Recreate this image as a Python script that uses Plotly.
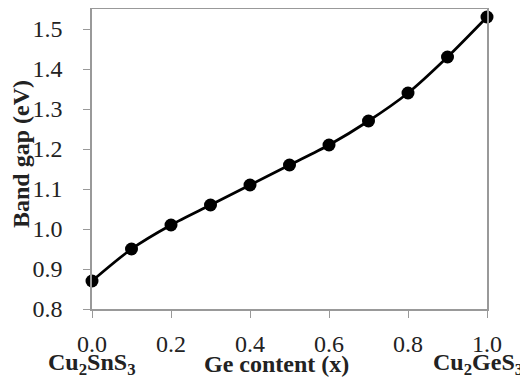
import plotly.graph_objects as go

ge_content = [0.0, 0.1, 0.2, 0.3, 0.4, 0.5, 0.6, 0.7, 0.8, 0.9, 1.0]
band_gap = [0.87, 0.95, 1.01, 1.06, 1.11, 1.16, 1.21, 1.27, 1.34, 1.43, 1.53]
x_ticks = [0.0, 0.2, 0.4, 0.6, 0.8, 1.0]
y_ticks = [0.8, 0.9, 1.0, 1.1, 1.2, 1.3, 1.4, 1.5]

FONT = "Liberation Serif, Times New Roman, serif"
TXT = "#222"
TS = 24
LS = 24

# page body has an 8px margin; figure sized to the visible 528x380 window
W, H = 520, 372
L, R, T, B = 84, 41, 1, 71
PW, PH = W - L - R, H - T - B

fig = go.Figure()
fig.add_trace(go.Scatter(
    x=ge_content, y=band_gap, mode="lines+markers",
    line=dict(color="black", width=2.7, shape="spline", smoothing=0.8),
    marker=dict(color="black", size=13),
    cliponaxis=False, showlegend=False,
))

fig.update_layout(
    width=W, height=H,
    margin=dict(l=L, r=R, t=T, b=B),
    paper_bgcolor="white", plot_bgcolor="white",
    font=dict(family=FONT, size=TS, color=TXT),
    xaxis=dict(range=[0, 1], tickvals=x_ticks, ticktext=[f"{v:.1f}" for v in x_ticks],
               automargin=False, ticklabelstandoff=5,
               showgrid=False, zeroline=False, showline=True, linecolor="#999",
               linewidth=1.5, mirror=True, ticks="outside", ticklen=7,
               tickcolor="#999", tickfont=dict(size=TS, family=FONT, color=TXT)),
    yaxis=dict(range=[0.8, 1.55], tickvals=y_ticks, ticktext=[f"{v:.1f}" for v in y_ticks],
               automargin=False, ticklabelstandoff=16,
               showgrid=False, zeroline=False, showline=True, linecolor="#999",
               linewidth=1.5, mirror=True, ticks="outside", ticklen=7,
               tickcolor="#999", tickfont=dict(size=TS, family=FONT, color=TXT)),
)

fig.add_annotation(x=(13 - L) / PW, xref="paper", y=(T + PH - 146) / PH, yref="paper",
                   xanchor="center", yanchor="middle",
                   text="<b>Band gap (eV)</b>", showarrow=False, textangle=-90,
                   font=dict(size=LS, family=FONT, color=TXT))

for xpos, txt in [(0.0, "<b>Cu<sub>2</sub>SnS<sub>3</sub></b>"),
                  (0.468, "<b>Ge content (x)</b>"),
                  (0.977, "<b>Cu<sub>2</sub>GeS<sub>3</sub></b>")]:
    fig.add_annotation(x=xpos, xref="x", y=0, yref="paper", yshift=-55,
                       text=txt, showarrow=False, xanchor="center", yanchor="middle",
                       font=dict(size=LS, family=FONT, color=TXT))

fig.write_html("out.html")
